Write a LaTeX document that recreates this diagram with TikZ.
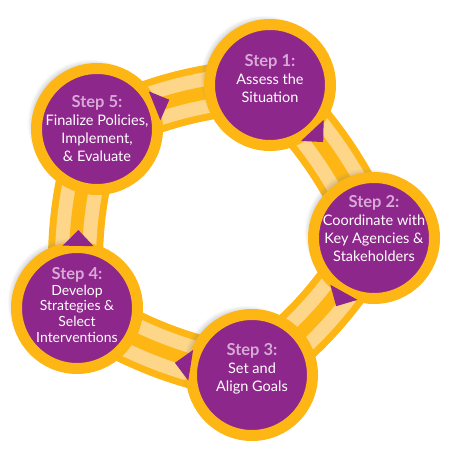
\documentclass[tikz,border=0pt]{standalone}
\usepackage{fontspec}
\setmainfont{Lato}
\usetikzlibrary{shadows,backgrounds}
\definecolor{steppurple}{RGB}{142,39,139}
\definecolor{ringyellow}{RGB}{253,182,20}
\definecolor{stripeyellow}{RGB}{253,214,138}
\definecolor{steplilac}{RGB}{216,168,214}
\newcommand{\stephead}[1]{{\color{steplilac}\fontsize{16.5}{18}\selectfont\bfseries #1}}

\begin{document}
\begin{tikzpicture}[x=1pt,y=1pt,
stepcircle/.style={circle,fill=steppurple,draw=ringyellow,line width=11pt,minimum size=121pt,inner sep=0pt,
  circular drop shadow={shadow xshift=-6pt,shadow yshift=6pt,shadow scale=1.05,opacity=.5}},
steptext/.style={align=center,text=white,font=\fontsize{14.5}{18}\selectfont},
smalltext/.style={font=\fontsize{14}{15.8}\selectfont},
band/.style={line width=55pt,draw=ringyellow},
stripe/.style={line width=41pt,draw=stripeyellow},
midline/.style={line width=13pt,draw=ringyellow},
pointer/.style={fill=steppurple}]
\useasboundingbox (0,0) rectangle (450,460);
\node[stepcircle] (s1) at (270,375) {};
\node[stepcircle] (s2) at (374,222) {};
\node[stepcircle] (s3) at (252,85) {};
\node[stepcircle] (s4) at (77,152) {};
\node[stepcircle] (s5) at (97,331) {};
% ring between the steps
\begin{scope}[on background layer]
\foreach \a/\b in {s1/s2,s2/s3,s3/s4,s4/s5,s5/s1}{
  \draw[band] (\a.center) to[bend left=10] (\b.center);
  \draw[stripe] (\a.center) to[bend left=10] (\b.center);
  \draw[midline] (\a.center) to[bend left=10] (\b.center);}
\end{scope}
% pointers
\foreach \s/\a in {s1/-47,s2/-119,s3/171,s4/89,s5/22}
  \fill[pointer] ([shift={(\a:78)}]\s.center) -- ([shift={(\a+14:64)}]\s.center) -- ([shift={(\a-14:64)}]\s.center) -- cycle;
\node[steptext] (t1) at ([yshift=6pt]s1.center) {\stephead{Step 1:}\\Assess the\\Situation};
\node[steptext] (t2) at ([yshift=9pt]s2.center) {\stephead{Step 2:}\\Coordinate with\\Key Agencies \&\\Stakeholders};
\node[steptext] (t3) at ([yshift=6pt]s3.center) {\stephead{Step 3:}\\Set and\\Align Goals};
\node[steptext,smalltext] (t4) at ([yshift=3pt]s4.center) {\stephead{Step 4:}\\Develop\\Strategies \&\\Select\\Interventions};
\node[steptext] (t5) at (s5.center) {\stephead{Step 5:}\\Finalize Policies,\\Implement,\\\& Evaluate};
\end{tikzpicture}
\end{document}
